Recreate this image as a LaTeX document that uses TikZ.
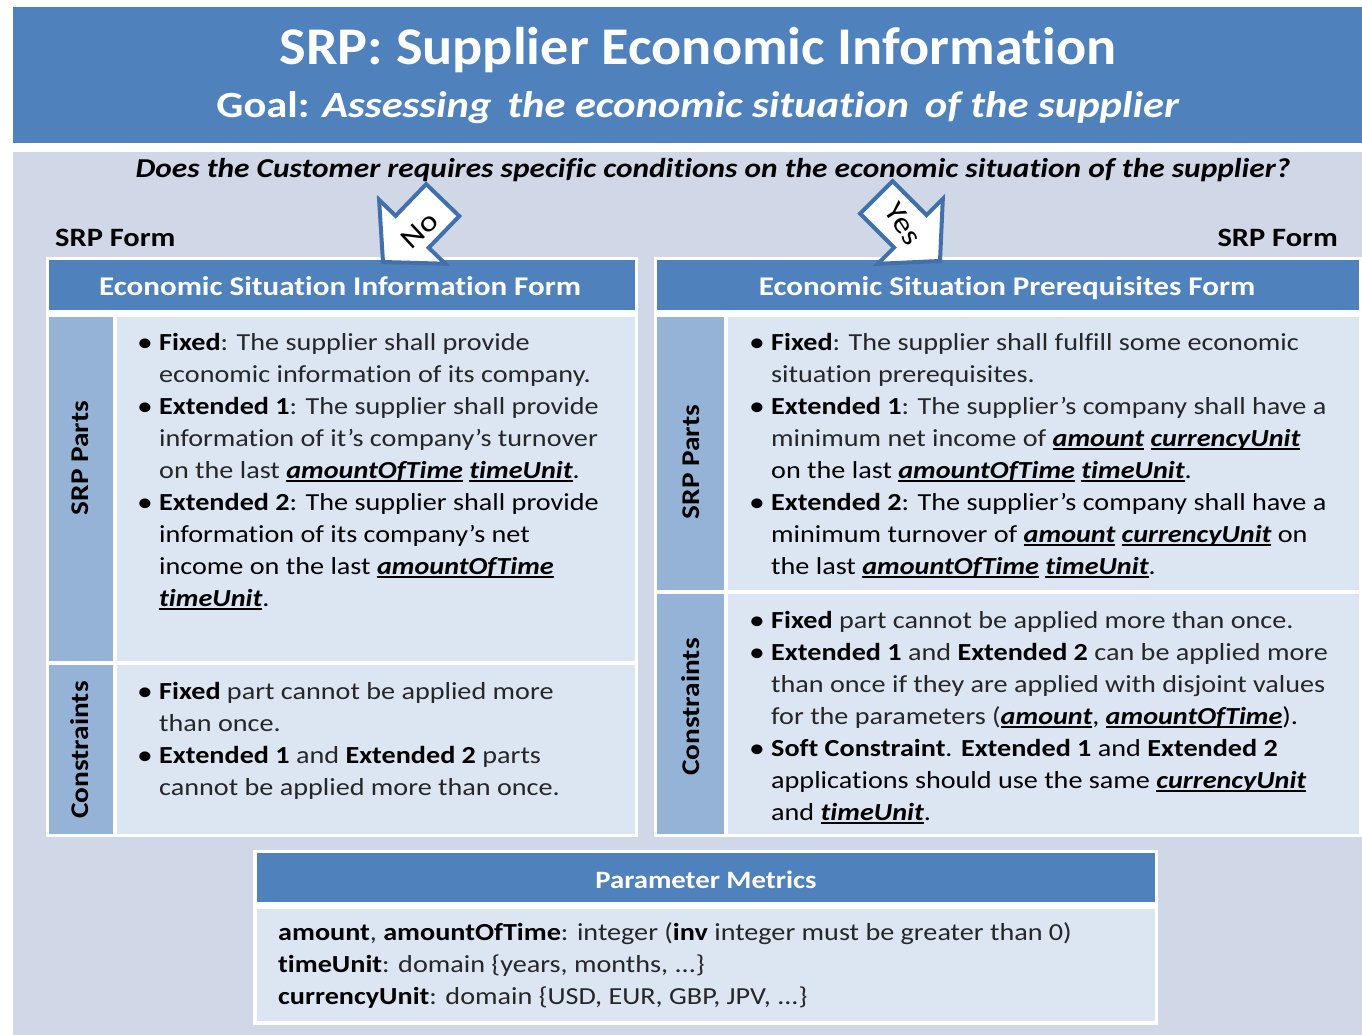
\documentclass[tikz,border=0pt]{standalone}
\usepackage{fontspec}
\setmainfont{Carlito}[FakeStretch=1.15, Ligatures=NoCommon]
\newfontfamily\titlefont{Carlito}[FakeStretch=1.06, Ligatures=NoCommon]
\definecolor{hdrblue}{RGB}{79,129,189}
\definecolor{panel}{RGB}{208,216,232}
\definecolor{colblue}{RGB}{149,179,215}
\definecolor{cell}{RGB}{220,230,242}
\definecolor{txt}{RGB}{38,38,38}
\definecolor{arrowblue}{RGB}{65,113,172}
\newcommand\bo[1]{{\bfseries\color{black}#1}}
\newcommand\pv[1]{\setbox0=\hbox{\bfseries\itshape\color{black}#1}\leavevmode\rlap{\color{black}\rule[-3.5pt]{\wd0}{1.6pt}}\box0\relax}
\newcommand\bul{\makebox[19pt][l]{\hspace*{-3pt}\raisebox{-0.8pt}{\scalebox{1.12}{\color{black}\textbullet}}}}
\newcommand\cind{\hspace*{19pt}}
\tikzset{
  blk/.style={anchor=north west, inner sep=0pt, align=left, font=\fontsize{24.5}{32}\selectfont, text=txt},
  hdr/.style={anchor=base, inner sep=0pt, font=\bfseries\fontsize{27}{32}\selectfont, text=white},
  vlabel/.style={rotate=90, inner sep=0pt, font=\bfseries\fontsize{25.5}{30}\selectfont, text=black},
  choice/.style={fill=white, draw=arrowblue, line width=4pt, line join=miter},
  choicetext/.style={inner sep=0pt, font=\fontsize{29}{32}\selectfont, text=black}
}
\begin{document}
\begin{tikzpicture}[x=1pt,y=1pt]
\useasboundingbox (0,0) rectangle (1362,-1035);
\fill[white] (0,0) rectangle (1362,-1035);
% title band and panel
\fill[hdrblue] (13,-7) rectangle (1362,-143);
\fill[panel] (13,-152) rectangle (1362,-1035);
\node[anchor=base, inner sep=0pt, font=\titlefont\bfseries\fontsize{53}{60}\selectfont, text=white] (title) at (698,-65) {SRP: Supplier Economic Information};
\node[anchor=base, inner sep=0pt, font=\bfseries\fontsize{37}{44}\selectfont, text=white] (goal) at (698,-118) {Goal: \textit{Assessing\, the economic situation\, of the supplier}};
\node[anchor=base, inner sep=0pt, font=\bfseries\itshape\fontsize{27.3}{32}\selectfont, text=black] (question) at (713,-178) {Does the Customer requires specific conditions on the economic situation of the supplier?};
\node[anchor=base west, inner sep=0pt, font=\bfseries\fontsize{26.5}{30}\selectfont] (formL) at (55,-246) {SRP Form};
\node[anchor=base east, inner sep=0pt, font=\bfseries\fontsize{26.5}{30}\selectfont] (formR) at (1338,-246) {SRP Form};
% left form
\fill[white] (46,-257) rectangle (638,-837);
\fill[hdrblue] (49,-260) rectangle (635,-310);
\fill[colblue] (49,-317) rectangle (113,-661);
\fill[cell] (117,-317) rectangle (635,-661);
\fill[colblue] (49,-665) rectangle (113,-834);
\fill[cell] (117,-665) rectangle (635,-834);
% right form
\fill[white] (654,-257) rectangle (1362,-837);
\fill[hdrblue] (657,-260) rectangle (1359,-310);
\fill[colblue] (657,-317) rectangle (724,-590);
\fill[cell] (728,-317) rectangle (1359,-590);
\fill[colblue] (657,-594) rectangle (724,-834);
\fill[cell] (728,-594) rectangle (1359,-834);
% bottom box
\fill[white] (253,-850) rectangle (1158,-1025);
\fill[hdrblue] (257,-853) rectangle (1155,-902);
\fill[cell] (257,-909) rectangle (1155,-1021);
% headers
\node[hdr] (hdrL) at (340,-295) {Economic Situation Information Form};
\node[hdr] (hdrR) at (1007,-295) {Economic Situation Prerequisites Form};
\node[hdr, font=\bfseries\fontsize{25}{30}\selectfont] (hdrP) at (706,-888) {Parameter Metrics};
% vertical labels
\node[vlabel] (partsL) at (80,-458) {SRP Parts};
\node[vlabel] (consL) at (80,-750) {Constraints};
\node[vlabel] (partsR) at (691,-462) {SRP Parts};
\node[vlabel] (consR) at (691,-707) {Constraints};
% left content
\node[blk] (textPartsL) at (140,-327.6) {\strut\bul\bo{Fixed}: The supplier shall provide\\
\cind economic information of its company.\\
\bul\bo{Extended 1}: The supplier shall provide\\
\cind information of it’s company’s turnover\\
\cind on the last \pv{amountOfTime} \pv{timeUnit}.\\
\bul\bo{Extended 2}: The supplier shall provide\\
\cind information of its company’s net\\
\cind income on the last \pv{amountOfTime}\\
\cind \pv{timeUnit}.};
\node[blk] (textConsL) at (140,-676.6) {\strut\bul\bo{Fixed} part cannot be applied more\\
\cind than once.\\
\bul\bo{Extended 1} and \bo{Extended 2} parts\\
\cind cannot be applied more than once.};
% right content
\node[blk] (textPartsR) at (752,-327.6) {\strut\bul\bo{Fixed}: The supplier shall fulfill some economic\\
\cind situation prerequisites.\\
\bul\bo{Extended 1}: The supplier's company shall have a\\
\cind minimum net income of \pv{amount} \pv{currencyUnit}\\
\cind on the last \pv{amountOfTime} \pv{timeUnit}.\\
\bul\bo{Extended 2}: The supplier’s company shall have a\\
\cind minimum turnover of \pv{amount} \pv{currencyUnit} on\\
\cind the last \pv{amountOfTime} \pv{timeUnit}.};
\node[blk] (textConsR) at (752,-605.6) {\strut\bul\bo{Fixed} part cannot be applied more than once.\\
\bul\bo{Extended 1} and \bo{Extended 2} can be applied more\\
\cind than once if they are applied with disjoint values\\
\cind for the parameters (\pv{amount}, \pv{amountOfTime}).\\
\bul\bo{Soft Constraint}. \bo{Extended 1} and \bo{Extended 2}\\
\cind applications should use the same \pv{currencyUnit}\\
\cind and \pv{timeUnit}.};
% parameters
\node[blk] (textParams) at (278,-917.6) {\strut\bo{amount}, \bo{amountOfTime}: integer (\bo{inv} integer must be greater than 0)\\
\bo{timeUnit}: domain \{years, months, ...\}\\
\bo{currencyUnit}: domain \{USD, EUR, GBP, JPV, ...\}};
% choice arrows
\draw[choice, shift={(383,-262)}, rotate=226] (0,0) -- (-42,46) -- (-42,23) -- (-86,23) -- (-86,-23) -- (-42,-23) -- (-42,-46) -- cycle;
\node[choicetext, rotate=43] (no) at (420,-230) {No};
\draw[choice, shift={(940,-261)}, rotate=-45] (0,0) -- (-42,46) -- (-42,23) -- (-90,23) -- (-90,-23) -- (-42,-23) -- (-42,-46) -- cycle;
\node[choicetext, rotate=-57] (yes) at (903,-224) {Yes};
\end{tikzpicture}
\end{document}
